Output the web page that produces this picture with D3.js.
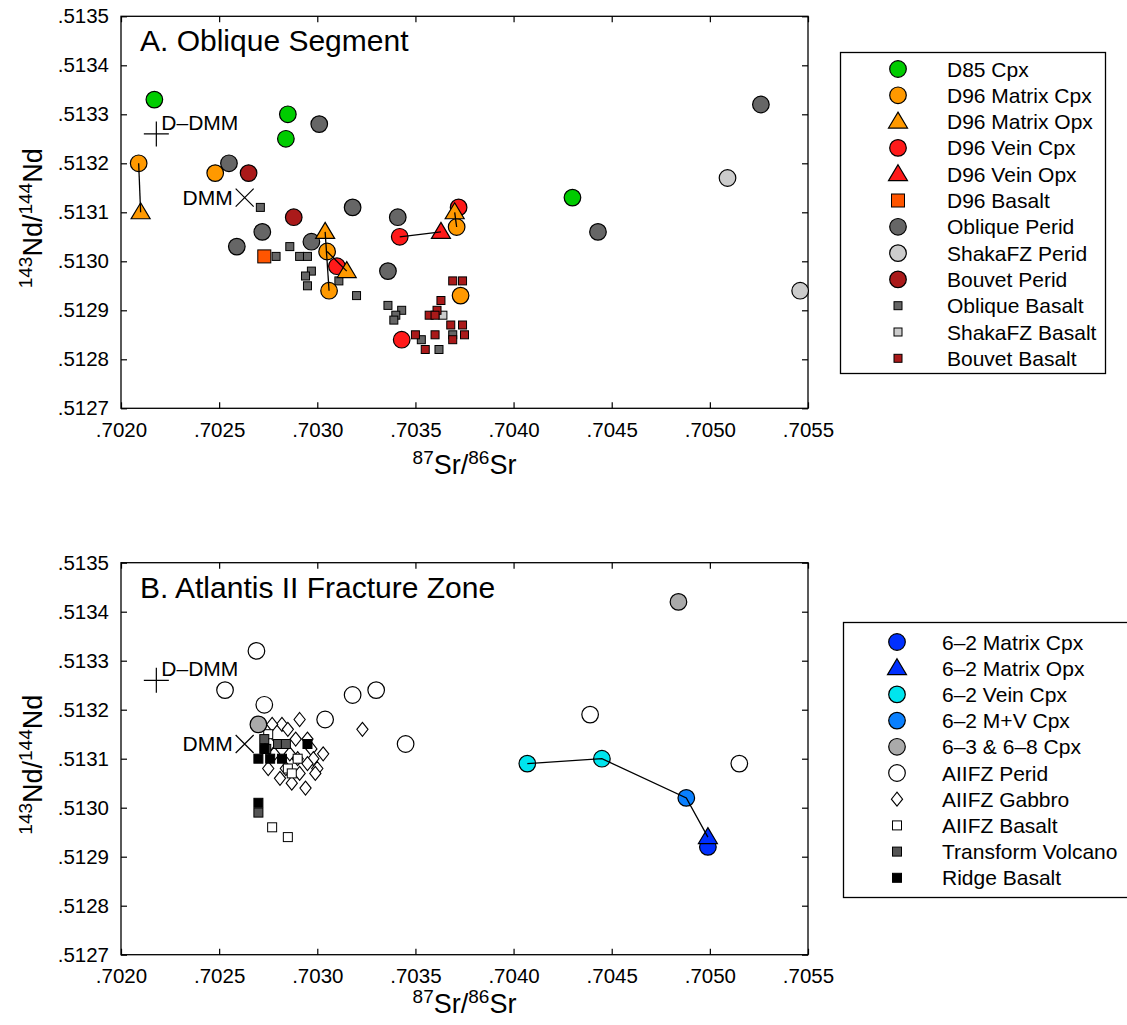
<!DOCTYPE html>
<html>
<head>
<meta charset="utf-8">
<script src="https://cdn.jsdelivr.net/npm/d3@7"></script>
<style>
  body { margin: 0; background: #fff; }
  text { font-family: "Liberation Sans", Arial, sans-serif; fill: #000; }
</style>
</head>
<body>
<svg id="chart" width="1127" height="1025"></svg>
<script>
// ---- data: [87Sr/86Sr, 143Nd/144Nd] ----
const xTicks = [.7020, .7025, .7030, .7035, .7040, .7045, .7050, .7055];
const yTicks = [.5127, .5128, .5129, .5130, .5131, .5132, .5133, .5134, .5135];

const dDMM = [.70218, .51326];
const DMM = [.70263, .51313];

// panel A
const d85Cpx = [[.70217, .51333], [.70285, .51330], [.70284, .51325], [.70430, .51313]];
const d96MatrixCpx = [[.70209, .51320], [.70248, .51318], [.70305, .51302], [.70306, .51294], [.70371, .51307], [.70373, .51293]];
const d96MatrixOpx = [[.70210, .51310], [.70304, .51306], [.70315, .51298], [.70370, .51310]];
const d96VeinCpx = [[.70310, .51299], [.70342, .51305], [.70372, .51311], [.70343, .51284]];
const d96VeinOpx = [[.70363, .51306]];
const d96Basalt = [[.70273, .51301]];
const obliquePerid = [[.70255, .51320], [.70301, .51328], [.70318, .51311], [.70272, .51306], [.70259, .51303],
  [.70297, .51304], [.70341, .51309], [.70336, .51298], [.70443, .51306], [.70526, .51332]];
const shakaPerid = [[.70509, .51317], [.70546, .51294]];
const bouvetPerid = [[.70265, .51318], [.70288, .51309]];
const obliqueBasalt = [[.70271, .51311], [.70279, .51301], [.70286, .51303], [.70291, .51301], [.70295, .51301],
  [.70297, .51298], [.70294, .51297], [.70295, .51295], [.70311, .51296], [.70320, .51293], [.70336, .51291],
  [.70343, .51290], [.70340, .51289], [.70339, .51288], [.70353, .51284], [.70362, .51282], [.70369, .51285]];
const shakaBasalt = [[.70364, .51289]];
const bouvetBasalt = [[.70369, .51296], [.70374, .51296], [.70363, .51292], [.70361, .51290], [.70357, .51289],
  [.70360, .51289], [.70368, .51287], [.70374, .51287], [.70375, .51285], [.70369, .51284], [.70350, .51285],
  [.70360, .51285], [.70355, .51282]];
// tie lines between phases of one sample
const tiesA = [
  [[.70209, .51320], [.70210, .51310]],
  [[.70304, .51306], [.70306, .51294]],
  [[.70305, .51302], [.70315, .51298]],
  [[.70342, .51305], [.70363, .51306]],
  [[.70370, .51310], [.70371, .51307]]
];

// panel B
const m62Cpx = [[.70499, .51292]];
const m62Opx = [[.70499, .51294]];
const v62Cpx = [[.70407, .51309], [.70445, .51310]];
const mv62Cpx = [[.70488, .51302]];
const cpx6368 = [[.70484, .51342], [.70270, .51317]];
const aiifzPerid = [[.70269, .51332], [.70253, .51324], [.70273, .51321], [.70304, .51318], [.70318, .51323],
  [.70330, .51324], [.70345, .51313], [.70439, .51319], [.70515, .51309]];
const aiifzGabbro = [[.70291, .51318], [.70282, .51317], [.70285, .51316], [.70277, .51317], [.70295, .51314],
  [.70297, .51312], [.70298, .51310], [.70300, .51308], [.70295, .51309], [.70289, .51314], [.70290, .51310],
  [.70275, .51308], [.70278, .51311], [.70286, .51311], [.70291, .51307], [.70294, .51304], [.70287, .51305],
  [.70281, .51306], [.70284, .51308], [.70276, .51313], [.70303, .51311], [.70299, .51307], [.70323, .51316]];
const aiifzBasalt = [[.70275, .51315], [.70285, .51308], [.70290, .51310], [.70287, .51307], [.70277, .51296], [.70285, .51294]];
const transformVolcano = [[.70280, .51313], [.70284, .51313], [.70274, .51312], [.70270, .51299], [.70273, .51314]];
const ridgeBasalt = [[.70273, .51312], [.70270, .51310], [.70276, .51310], [.70282, .51310], [.70270, .51301], [.70295, .51313]];
const tiesB = [[[.70407, .51309], [.70445, .51310], [.70488, .51302], [.70499, .51294]]];

// ---- styles ----
const seriesA = [
  { name: "Oblique Basalt", data: obliqueBasalt, shape: "sq", size: 8, fill: "#666666" },
  { name: "ShakaFZ Basalt", data: shakaBasalt, shape: "sq", size: 8, fill: "#cccccc" },
  { name: "Bouvet Basalt", data: bouvetBasalt, shape: "sq", size: 8, fill: "#aa1a1a" },
  { name: "Oblique Perid", data: obliquePerid, shape: "circle", size: 8.3, fill: "#666666" },
  { name: "ShakaFZ Perid", data: shakaPerid, shape: "circle", size: 8.3, fill: "#cccccc" },
  { name: "Bouvet Perid", data: bouvetPerid, shape: "circle", size: 8.3, fill: "#aa1a1a" },
  { name: "D85 Cpx", data: d85Cpx, shape: "circle", size: 8.3, fill: "#00cc00" },
  { name: "D96 Basalt", data: d96Basalt, shape: "sq", size: 13, fill: "#ff5500" },
  { name: "D96 Matrix Cpx", data: d96MatrixCpx, shape: "circle", size: 8.3, fill: "#ff9900" },
  { name: "D96 Vein Cpx", data: d96VeinCpx, shape: "circle", size: 8.3, fill: "#ff1a1a" },
  { name: "D96 Matrix Opx", data: d96MatrixOpx, shape: "tri", size: 9.5, fill: "#ff9900" },
  { name: "D96 Vein Opx", data: d96VeinOpx, shape: "tri", size: 9.5, fill: "#ff1a1a" }
];
const legendA = ["D85 Cpx", "D96 Matrix Cpx", "D96 Matrix Opx", "D96 Vein Cpx", "D96 Vein Opx", "D96 Basalt",
  "Oblique Perid", "ShakaFZ Perid", "Bouvet Perid", "Oblique Basalt", "ShakaFZ Basalt", "Bouvet Basalt"];

const seriesB = [
  { name: "AIIFZ Gabbro", data: aiifzGabbro, shape: "diamond", size: 7, fill: "#ffffff" },
  { name: "AIIFZ Basalt", data: aiifzBasalt, shape: "sq", size: 9, fill: "#ffffff" },
  { name: "Transform Volcano", data: transformVolcano, shape: "sq", size: 9, fill: "#555555" },
  { name: "Ridge Basalt", data: ridgeBasalt, shape: "sq", size: 9, fill: "#000000" },
  { name: "AIIFZ Perid", data: aiifzPerid, shape: "circle", size: 8.3, fill: "#ffffff" },
  { name: "6\u20133 & 6\u20138 Cpx", data: cpx6368, shape: "circle", size: 8.3, fill: "#aaaaaa" },
  { name: "6\u20132 Vein Cpx", data: v62Cpx, shape: "circle", size: 8.3, fill: "#00e5ee" },
  { name: "6\u20132 M+V Cpx", data: mv62Cpx, shape: "circle", size: 8.3, fill: "#0a80ff" },
  { name: "6\u20132 Matrix Cpx", data: m62Cpx, shape: "circle", size: 8.3, fill: "#0030ff" },
  { name: "6\u20132 Matrix Opx", data: m62Opx, shape: "tri", size: 9.5, fill: "#0030ff" }
];
const legendB = ["6\u20132 Matrix Cpx", "6\u20132 Matrix Opx", "6\u20132 Vein Cpx", "6\u20132 M+V Cpx", "6\u20133 & 6\u20138 Cpx",
  "AIIFZ Perid", "AIIFZ Gabbro", "AIIFZ Basalt", "Transform Volcano", "Ridge Basalt"];

const svg = d3.select("#chart");
const fmt = v => d3.format(".4f")(v).replace(/^0/, "");

const x = d3.scaleLinear().domain([.7020, .7055]).range([121, 808]);

function marker(g, shape, s, fill, px, py) {
  if (shape === "circle") {
    g.append("circle").attr("cx", px).attr("cy", py).attr("r", s)
      .attr("fill", fill).attr("stroke", "#000").attr("stroke-width", 1.2);
  } else if (shape === "sq") {
    g.append("rect").attr("x", px - s / 2).attr("y", py - s / 2).attr("width", s).attr("height", s)
      .attr("fill", fill).attr("stroke", "#000").attr("stroke-width", 1);
  } else if (shape === "tri") {
    g.append("path").attr("d", `M${px},${py - s * 1.0}L${px + s},${py + s * 0.68}L${px - s},${py + s * 0.68}Z`)
      .attr("fill", fill).attr("stroke", "#000").attr("stroke-width", 1.2);
  } else if (shape === "diamond") {
    g.append("path").attr("d", `M${px},${py - s}L${px + s * 0.8},${py}L${px},${py + s}L${px - s * 0.8},${py}Z`)
      .attr("fill", fill).attr("stroke", "#000").attr("stroke-width", 1.1);
  }
}

function panel(top, title, series, ties, legendNames, lg, xTitleOffset) {
  const bottom = top + 392;
  const y = d3.scaleLinear().domain([.5127, .5135]).range([bottom, top]);
  const g = svg.append("g");

  // frame
  g.append("rect").attr("x", x.range()[0]).attr("y", top)
    .attr("width", x.range()[1] - x.range()[0]).attr("height", bottom - top)
    .attr("fill", "none").attr("stroke", "#000").attr("stroke-width", 1.3);

  // axes with inward ticks
  g.append("g").attr("transform", `translate(0,${bottom})`)
    .call(d3.axisBottom(x).tickValues(xTicks).tickSize(-6).tickPadding(14).tickFormat(fmt))
    .call(a => a.select(".domain").remove());
  g.append("g").attr("transform", `translate(0,${top})`)
    .call(d3.axisTop(x).tickValues(xTicks).tickSize(-6).tickFormat(""))
    .call(a => a.select(".domain").remove());
  g.append("g").attr("transform", `translate(${x.range()[0]},0)`)
    .call(d3.axisLeft(y).tickValues(yTicks).tickSize(-6).tickPadding(12).tickFormat(fmt))
    .call(a => a.select(".domain").remove());
  g.append("g").attr("transform", `translate(${x.range()[1]},0)`)
    .call(d3.axisRight(y).tickValues(yTicks).tickSize(-6).tickFormat(""))
    .call(a => a.select(".domain").remove());
  g.selectAll(".tick line").attr("stroke", "#000").attr("stroke-width", 1.2);
  g.selectAll(".tick text").style("font-size", "20.5px").attr("font-family", "Liberation Sans, Arial, sans-serif");

  // axis titles
  const xl = g.append("text").attr("x", (x.range()[0] + x.range()[1]) / 2).attr("y", bottom + xTitleOffset)
    .attr("text-anchor", "middle").style("font-size", "27px");
  xl.append("tspan").text("87").style("font-size", "19px").attr("dy", -10);
  xl.append("tspan").text("Sr/").attr("dy", 10);
  xl.append("tspan").text("86").style("font-size", "19px").attr("dy", -10);
  xl.append("tspan").text("Sr").attr("dy", 10);

  const yl = g.append("text").attr("transform", `translate(42,${(top + bottom) / 2 + 6}) rotate(-90)`)
    .attr("text-anchor", "middle").style("font-size", "27px");
  yl.append("tspan").text("143").style("font-size", "19px").attr("dy", -10);
  yl.append("tspan").text("Nd/").attr("dy", 10);
  yl.append("tspan").text("144").style("font-size", "19px").attr("dy", -10);
  yl.append("tspan").text("Nd").attr("dy", 10);

  // panel title
  g.append("text").attr("x", 140).attr("y", top + 35).style("font-size", "30px").text(title);

  // reference mantle compositions
  const cx = x(dDMM[0]), cy = y(dDMM[1]);
  g.append("path").attr("d", `M${cx - 12.5},${cy}H${cx + 12.5}M${cx},${cy - 12.5}V${cy + 12.5}`)
    .attr("stroke", "#000").attr("stroke-width", 1.2);
  g.append("text").attr("x", cx + 5).attr("y", cy - 4).style("font-size", "21px").text("D\u2013DMM");
  const mx = x(DMM[0]), my = y(DMM[1]);
  g.append("path").attr("d", `M${mx - 9},${my - 9}L${mx + 9},${my + 9}M${mx - 9},${my + 9}L${mx + 9},${my - 9}`)
    .attr("stroke", "#000").attr("stroke-width", 1.2);
  g.append("text").attr("x", mx - 12).attr("y", my + 7).attr("text-anchor", "end").style("font-size", "21px").text("DMM");

  // data
  const pts = g.append("g");
  series.forEach(s => s.data.forEach(d => marker(pts, s.shape, s.size, s.fill, x(d[0]), y(d[1]))));

  const line = d3.line().x(d => x(d[0])).y(d => y(d[1]));
  g.append("g").selectAll("path").data(ties).join("path")
    .attr("d", line).attr("fill", "none").attr("stroke", "#000").attr("stroke-width", 1.3);

  // legend
  const lgG = g.append("g");
  lgG.append("rect").attr("x", lg.x).attr("y", lg.y).attr("width", lg.w).attr("height", lg.h)
    .attr("fill", "#fff").attr("stroke", "#000").attr("stroke-width", 1.3);
  legendNames.forEach((n, i) => {
    const s = series.find(e => e.name === n);
    const ry = lg.first + i * lg.step;
    marker(lgG, s.shape, s.size, s.fill, lg.mx, ry);
    lgG.append("text").attr("x", lg.tx).attr("y", ry + 7.5).style("font-size", "21px").text(n);
  });
}

panel(16.3, "A. Oblique Segment", seriesA, tiesA, legendA,
  { x: 840.5, y: 52.5, w: 265, h: 321, first: 69, step: 26.3, mx: 898, tx: 947 }, 66);
panel(562.7, "B. Atlantis II Fracture Zone", seriesB, tiesB, legendB,
  { x: 843.5, y: 622.5, w: 300, h: 275, first: 642, step: 26.2, mx: 897, tx: 942 }, 58);
</script>
</body>
</html>
